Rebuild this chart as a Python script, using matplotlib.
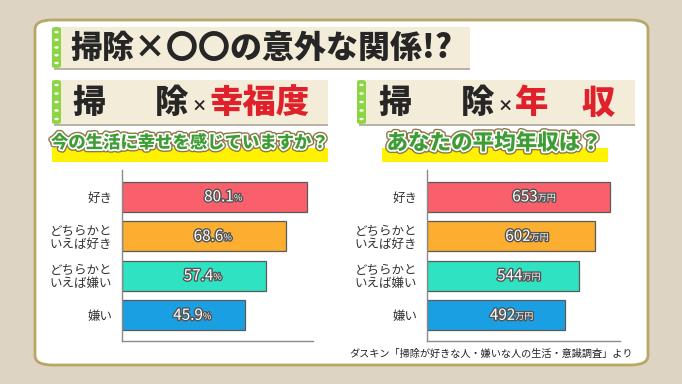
import matplotlib
matplotlib.use('Agg')
import matplotlib.pyplot as plt
import matplotlib.patheffects as pe
from matplotlib.patches import FancyBboxPatch, Circle

plt.rcParams['font.family'] = ['Noto Sans CJK JP', 'DejaVu Sans']

# data
categories = ['好き', 'どちらかと\nいえば好き', 'どちらかと\nいえば嫌い', '嫌い']
happiness = [80.1, 68.6, 57.4, 45.9]
income = [653, 602, 544, 492]
bar_colors = ['#f9606b', '#fbae30', '#2fe2c2', '#1aa0e2']

title = '掃除×〇〇の意外な関係!?'
q_left = '今の生活に幸せを感じていますか？'
q_right = 'あなたの平均年収は？'
source = 'ダスキン「掃除が好きな人・嫌いな人の生活・意識調査」より'

W, H = 682, 384
fig = plt.figure(figsize=(W / 100, H / 100), dpi=100)
fig.patch.set_facecolor('#ddd4c4')


def fx(x):
    return x / W


def fy(y):
    return 1 - y / H


def rect(x0, y0, x1, y1, **kw):
    # pixel box (top-left origin) -> figure patch
    r = FancyBboxPatch((fx(x0), fy(y1)), fx(x1) - fx(x0), fy(y0) - fy(y1),
                       transform=fig.transFigure, **kw)
    fig.patches.append(r)
    return r


# white panel
rect(35, 20, 648, 365, boxstyle='round,pad=0,rounding_size=0.025',
     facecolor='white', edgecolor='#b8a765', linewidth=2)


def banner(x0, y0, x1, y1):
    rect(x0 + 2, y0 + 2, x1, y1 + 2, boxstyle='square,pad=0',
         facecolor='#b9b3a5', edgecolor='none')
    rect(x0, y0, x1, y1, boxstyle='square,pad=0',
         facecolor='#f3ecd8', edgecolor='none')
    rect(x0, y0, x0 + 9, y1, boxstyle='round,pad=0,rounding_size=0.006',
         facecolor='#8cd645', edgecolor='none')
    n = 5
    for i in range(n):
        cy = y0 + 5 + i * (y1 - y0 - 10) / (n - 1)
        c = Circle((fx(x0 + 4.5), fy(cy)), 2.2 / W, transform=fig.transFigure,
                   facecolor='white', edgecolor='none')
        fig.patches.append(c)


banner(52, 27, 470, 68)
banner(52, 80, 328, 124)
banner(357, 80, 635, 124)

fig.text(fx(70), fy(48), title, fontsize=23, fontweight='heavy',
         color='#262626', va='center', ha='left')

dark = '#262626'
red = '#e0202a'
sub_kw = dict(fontsize=24, fontweight='heavy', va='center', ha='left')
x_kw = dict(fontsize=11, fontweight='heavy', va='center', ha='center',
            color=dark)
fig.text(fx(72), fy(103), '掃', color=dark, **sub_kw)
fig.text(fx(155), fy(103), '除', color=dark, **sub_kw)
fig.text(fx(199), fy(106), '×', **x_kw)
fig.text(fx(209), fy(103), '幸福度', color=red, **sub_kw)
fig.text(fx(378), fy(103), '掃', color=dark, **sub_kw)
fig.text(fx(461), fy(103), '除', color=dark, **sub_kw)
fig.text(fx(505), fy(106), '×', **x_kw)
fig.text(fx(515), fy(103), '年', color=red, **sub_kw)
fig.text(fx(581), fy(103), '収', color=red, **sub_kw)

# question lines with yellow marker
rect(52, 148, 328, 162, boxstyle='square,pad=0', facecolor='#fff200',
     edgecolor='none')
rect(382, 148, 608, 162, boxstyle='square,pad=0', facecolor='#fff200',
     edgecolor='none')
q_fx = [pe.Stroke(linewidth=4.5, foreground='#8a7a45'),
        pe.Stroke(linewidth=2.5, foreground='white'), pe.Normal()]
fig.text(fx(190), fy(143), q_left, fontsize=12.5, fontweight='heavy',
         color='#3e9e35', ha='center', va='center', path_effects=q_fx)
fig.text(fx(494), fy(143), q_right, fontsize=15.5, fontweight='heavy',
         color='#3e9e35', ha='center', va='center', path_effects=q_fx)

num_fx = [pe.withStroke(linewidth=2, foreground='#555555')]


def chart(x0, x1, values, base, right, unit, fmt):
    ax = fig.add_axes([fx(x0), fy(341), fx(x1) - fx(x0), fy(170) - fy(341)])
    ax.set_zorder(3)
    ys = range(len(values))
    widths = [v - base for v in values]
    ax.barh(ys, widths, left=base, height=0.76, color=bar_colors,
            edgecolor='#5a5a5a', linewidth=0.9)
    ax.set_xlim(base, right)
    ax.set_ylim(3.65, -0.68)
    ax.set_facecolor('none')
    for s in ['top', 'right']:
        ax.spines[s].set_visible(False)
    for s in ['left', 'bottom']:
        ax.spines[s].set_color('#8a8a8a')
        ax.spines[s].set_linewidth(1)
    ax.set_xticks([])
    ax.set_yticks(list(ys))
    ax.set_yticklabels(categories, fontsize=9, color='#333333', linespacing=1.0)
    ax.tick_params(axis='y', length=0, pad=7)
    for y, v in zip(ys, values):
        xc = (base + v) / 2
        ax.annotate(fmt.format(v), (xc, y), xytext=(14, 0),
                    textcoords='offset points', ha='right', va='center',
                    fontsize=11, color='white', path_effects=num_fx)
        ax.annotate(unit, (xc, y), xytext=(14, -1),
                    textcoords='offset points', ha='left', va='center',
                    fontsize=6.5, color='white', path_effects=num_fx)
    return ax


chart(122, 313, happiness, -22, 83.4, '%', '{:.1f}')
chart(427, 620, income, 0, 690, '万円', '{:d}')

fig.text(fx(633), fy(354), source, fontsize=7.3, color='#222222',
         ha='right', va='center')

fig.savefig('out.png', dpi=100)
